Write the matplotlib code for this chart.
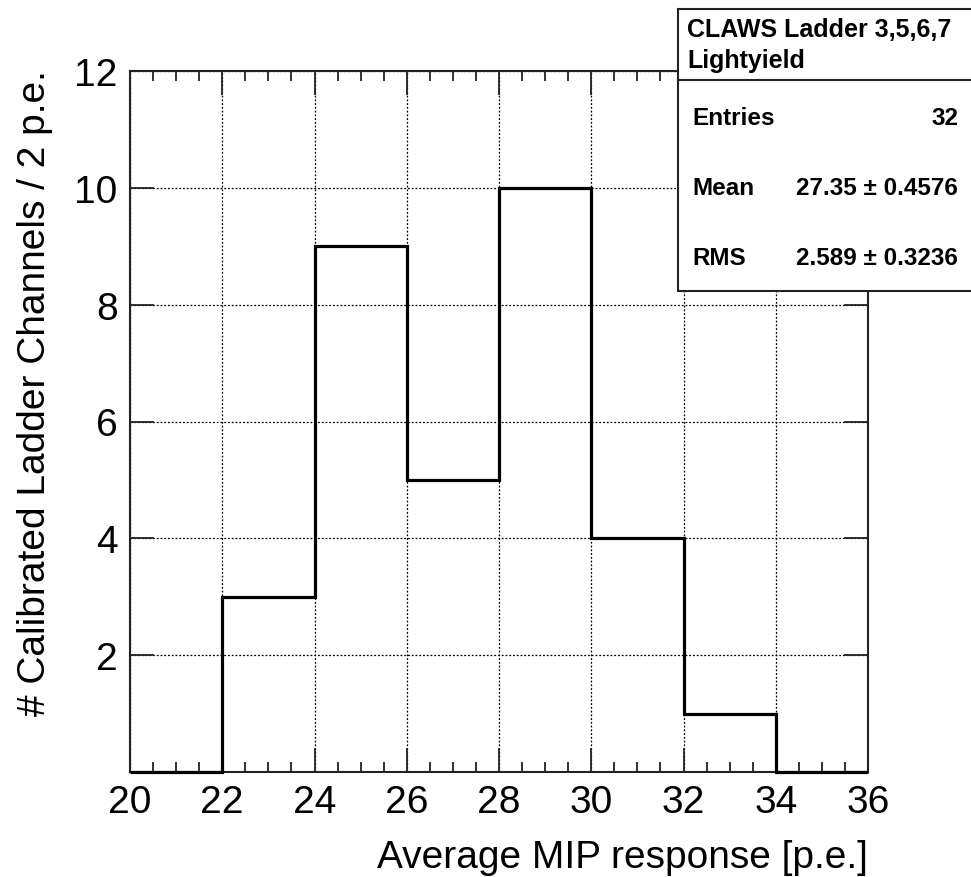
import matplotlib
matplotlib.use("Agg")
import matplotlib.pyplot as plt
from matplotlib.patches import Rectangle
from matplotlib.ticker import MultipleLocator
import numpy as np

# ---- data ----
bin_edges = [20, 22, 24, 26, 28, 30, 32, 34, 36]
counts = [0, 3, 9, 5, 10, 4, 1, 0]
x_ticks = [20, 22, 24, 26, 28, 30, 32, 34, 36]
y_ticks = [2, 4, 6, 8, 10, 12]
title_lines = ["CLAWS Ladder 3,5,6,7", "Lightyield"]
stat_names = ["Entries", "Mean", "RMS"]
stat_values = ["32", "27.35 \u00b1 0.4576", "2.589 \u00b1 0.3236"]
xlabel = "Average MIP response [p.e.]"
ylabel = "# Calibrated Ladder Channels / 2 p.e."

W, H = 971, 878
plt.rcParams['font.family'] = ['Liberation Sans', 'DejaVu Sans']

fig = plt.figure(figsize=(W / 100, H / 100), dpi=100)

def fx(px):
    return px / W

def fy(py):
    return 1 - py / H

L, R, T, B = 130, 868, 72, 773
ax = fig.add_axes([fx(L), fy(B), fx(R) - fx(L), fy(T) - fy(B)])

ax.stairs(counts, bin_edges, baseline=None, color='black', linewidth=2.3,
          zorder=3, clip_on=False)

ax.set_xlim(20, 36)
ax.set_ylim(0, 12)
ax.set_xticks(x_ticks)
ax.set_yticks(y_ticks)
ax.xaxis.set_minor_locator(MultipleLocator(0.5))

ax.grid(True, which='major', color='black', linestyle=(0, (1.5, 1.5)), linewidth=0.9)
ax.set_axisbelow(True)

ax.tick_params(axis='x', which='major', direction='in', length=17, width=1.3,
               top=True, bottom=True, labelsize=28, pad=9, color='#222222')
ax.tick_params(axis='x', which='minor', direction='in', length=7.5, width=1.3,
               top=True, bottom=True, color='#222222')
ax.tick_params(axis='y', which='major', direction='in', length=17, width=1.3,
               left=True, right=True, labelsize=28, pad=9, color='#222222')
for s in ax.spines.values():
    s.set_linewidth(1.5)
    s.set_color('#222222')

fig.text(fx(868), fy(868), xlabel, ha='right', va='baseline', fontsize=28)
fig.text(fx(35), fy(70), ylabel, ha='center', va='top', rotation=90, fontsize=28)

# ---- stats box ----
bx0, by0, bx1, by1 = 678, 10, 985, 292
div = 81
fig.patches.append(Rectangle((fx(bx0), fy(by1)), fx(bx1) - fx(bx0), fy(by0) - fy(by1),
                             transform=fig.transFigure, facecolor='white',
                             edgecolor='#222222', linewidth=1.5, zorder=5))
fig.lines.append(plt.Line2D([fx(bx0), fx(bx1)], [fy(div), fy(div)],
                            transform=fig.transFigure, color='#222222',
                            linewidth=1.5, zorder=6))

fs = 18
fig.text(fx(687), fy(37), title_lines[0], ha='left', va='baseline', fontsize=fs,
         fontweight='bold', zorder=7)
fig.text(fx(687), fy(68), title_lines[1], ha='left', va='baseline', fontsize=fs,
         fontweight='bold', zorder=7)
stat_y = [125, 195, 265]
for name, val, yy in zip(stat_names, stat_values, stat_y):
    fig.text(fx(692), fy(yy), name, ha='left', va='baseline', fontsize=fs - 0.5,
             fontweight='bold', zorder=7)
    fig.text(fx(958), fy(yy), val, ha='right', va='baseline', fontsize=fs - 0.5,
             fontweight='bold', zorder=7)

fig.savefig("out.png", dpi=100)
